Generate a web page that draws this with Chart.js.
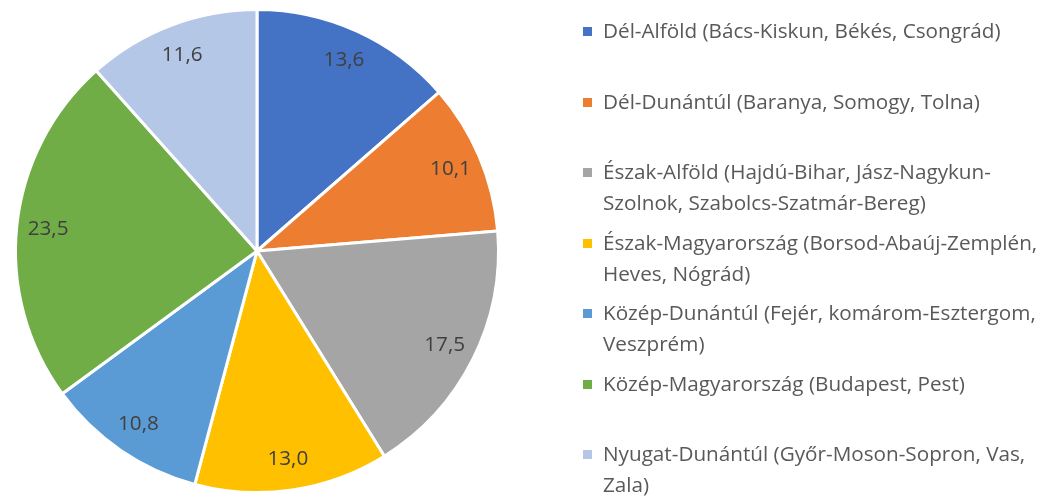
<!DOCTYPE html>
<html lang="hu">
<head>
<meta charset="utf-8">
<script src="https://cdn.jsdelivr.net/npm/chart.js@4"></script>
<style>
    html, body { margin: 0; padding: 0; background: #fff; }
    #wrap { position: relative; width: 1049px; height: 500px; }
    #legend {
        position: absolute; left: 583px; top: 15px; margin: 0; padding: 0;
        list-style: none; font-family: "Open Sans", Lato, sans-serif;
        font-size: 20.7px; color: #595959; white-space: nowrap;
    }
    #legend li { position: relative; height: 70.5px; padding-left: 20px; line-height: 31px; }
    #legend li span.box {
        position: absolute; left: 0; top: 12px; width: 9px; height: 9px;
    }
</style>
</head>
<body>
<div id="wrap">
    <canvas id="chart" width="1049" height="500"></canvas>
    <ul id="legend"></ul>
</div>
<script>
// Kategóriák (régiók) – sortöréssel, ahogy a jelmagyarázatban állnak
const regions = [
    ["Dél-Alföld (Bács-Kiskun, Békés, Csongrád)"],
    ["Dél-Dunántúl (Baranya, Somogy, Tolna)"],
    ["Észak-Alföld (Hajdú-Bihar, Jász-Nagykun-", "Szolnok, Szabolcs-Szatmár-Bereg)"],
    ["Észak-Magyarország (Borsod-Abaúj-Zemplén,", "Heves, Nógrád)"],
    ["Közép-Dunántúl (Fejér, komárom-Esztergom,", "Veszprém)"],
    ["Közép-Magyarország (Budapest, Pest)"],
    ["Nyugat-Dunántúl (Győr-Moson-Sopron, Vas,", "Zala)"],
];

// Százalékos megoszlás
const shares = [13.6, 10.1, 17.5, 13.0, 10.8, 23.5, 11.6];

const sliceColors = ["#4472C4", "#ED7D31", "#A5A5A5", "#FFC000", "#5B9BD5", "#70AD47", "#B4C7E7"];

// Adatfeliratok a szeletek belsejében
const sliceLabels = {
    id: "sliceLabels",
    afterDatasetsDraw(chart) {
        const { ctx } = chart;
        const meta = chart.getDatasetMeta(0);
        ctx.save();
        ctx.font = "20.7px 'Open Sans', Lato, sans-serif";
        ctx.fillStyle = "#404040";
        ctx.textAlign = "center";
        ctx.textBaseline = "middle";
        meta.data.forEach((arc, i) => {
            const p = arc.getProps(["x", "y", "startAngle", "endAngle", "outerRadius"], true);
            const mid = (p.startAngle + p.endAngle) / 2;
            const r = p.outerRadius * 0.87;
            const txt = chart.data.datasets[0].data[i].toFixed(1).replace(".", ",");
            ctx.fillText(txt, p.x + Math.cos(mid) * r, p.y + Math.sin(mid) * r);
        });
        ctx.restore();
    },
};

// HTML-jelmagyarázat a chart adataiból
const htmlLegend = {
    id: "htmlLegend",
    afterUpdate(chart) {
        const ul = document.getElementById("legend");
        ul.innerHTML = "";
        chart.data.labels.forEach((lbl, i) => {
            const li = document.createElement("li");
            const box = document.createElement("span");
            box.className = "box";
            box.style.background = chart.data.datasets[0].backgroundColor[i];
            li.appendChild(box);
            lbl.forEach((line, j) => {
                if (j > 0) li.appendChild(document.createElement("br"));
                li.appendChild(document.createTextNode(line));
            });
            ul.appendChild(li);
        });
    },
};

new Chart(document.getElementById("chart"), {
    type: "pie",
    data: {
        labels: regions,
        datasets: [{
            data: shares,
            backgroundColor: sliceColors,
            borderColor: "#ffffff",
            borderWidth: 3,
        }],
    },
    options: {
        responsive: false,
        animation: false,
        layout: { padding: { left: 14, right: 549, top: 8, bottom: 6 } },
        plugins: {
            legend: { display: false },
            tooltip: { enabled: false },
        },
    },
    plugins: [sliceLabels, htmlLegend],
});
</script>
</body>
</html>
